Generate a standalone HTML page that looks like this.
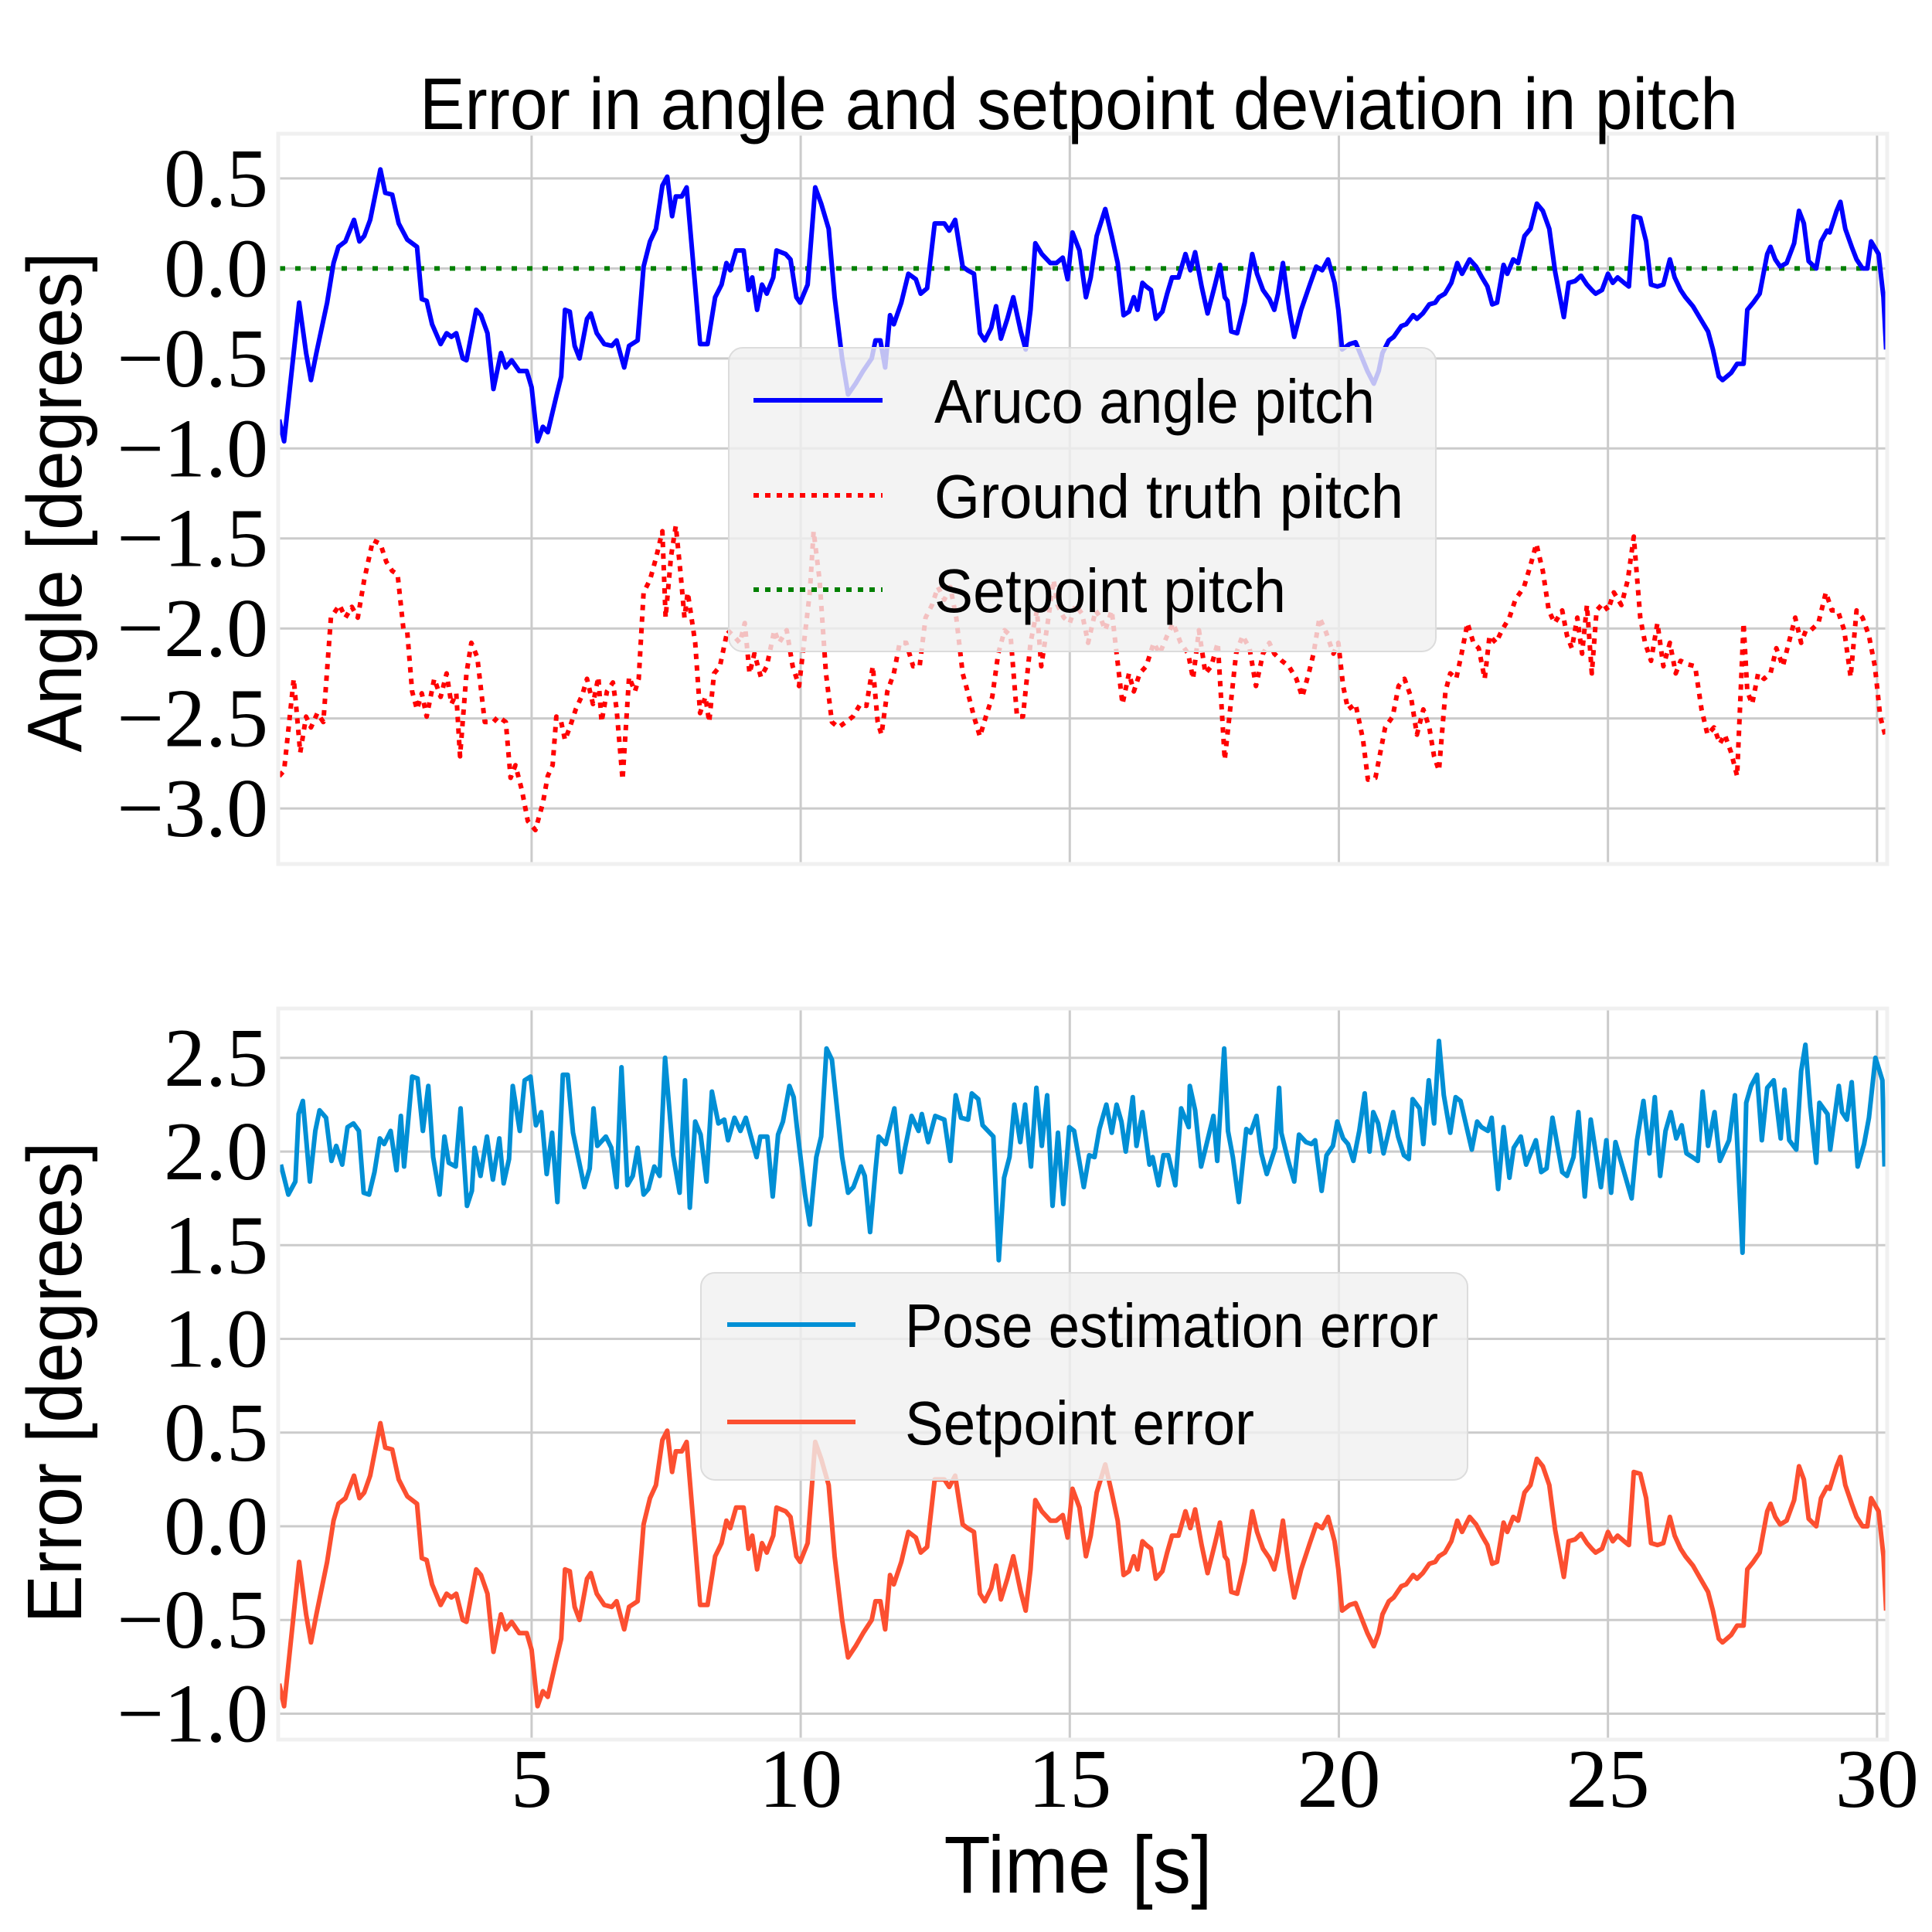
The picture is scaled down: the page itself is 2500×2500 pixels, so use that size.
<!DOCTYPE html>
<html><head><meta charset="utf-8">
<style>
html,body{margin:0;padding:0;background:#fff;}
svg{display:block;}
.tick{font-family:"Liberation Serif","DejaVu Serif",serif;font-size:108px;fill:#000;}
.sans{font-family:"Liberation Sans","DejaVu Sans",sans-serif;fill:#000;}
</style></head>
<body>
<svg id="chart" width="2500" height="2500" viewBox="0 0 2500 2500" xmlns="http://www.w3.org/2000/svg">
<rect x="0" y="0" width="2500" height="2500" fill="#fff"/>
<g id="top"></g>
<g id="bot"></g>
<text class="sans" x="1396" y="167" font-size="95" text-anchor="middle" textLength="1706" lengthAdjust="spacingAndGlyphs">Error in angle and setpoint deviation in pitch</text>
<text class="sans" transform="translate(105,650) rotate(-90)" font-size="100" text-anchor="middle" textLength="647" lengthAdjust="spacingAndGlyphs">Angle [degrees]</text>
<text class="sans" transform="translate(105,1789) rotate(-90)" font-size="100" text-anchor="middle" textLength="623" lengthAdjust="spacingAndGlyphs">Error [degrees]</text>
<text class="sans" x="1395" y="2449" font-size="105" text-anchor="middle" textLength="347" lengthAdjust="spacingAndGlyphs">Time [s]</text>
</svg>
<script>
// ---- data ----
const arucoT=[0.31,0.40,0.68,0.81,0.90,1.0,1.2,1.32,1.41,1.54,1.70,1.80,1.89,2.0,2.19,2.28,2.41,2.53,2.69,2.87,2.96,3.05,3.15,3.31,3.42,3.51,3.60,3.72,3.79,3.97,4.06,4.18,4.29,4.43,4.52,4.63,4.77,4.91,5.0,5.11,5.21,5.30,5.46,5.55,5.62,5.71,5.80,5.89,6.03,6.10,6.21,6.35,6.49,6.58,6.72,6.81,6.97,7.08,7.20,7.31,7.43,7.52,7.61,7.68,7.79,7.88,8.04,8.13,8.27,8.41,8.53,8.62,8.69,8.80,8.94,9.03,9.10,9.19,9.28,9.37,9.49,9.55,9.72,9.81,9.92,9.99,10.13,10.27,10.38,10.52,10.63,10.77,10.88,11.02,11.16,11.32,11.39,11.48,11.57,11.66,11.73,11.87,12.0,12.14,12.23,12.35,12.49,12.55,12.67,12.76,12.87,13.01,13.10,13.22,13.33,13.42,13.54,13.63,13.72,13.84,13.95,14.09,14.18,14.27,14.36,14.48,14.64,14.75,14.87,14.96,15.05,15.18,15.30,15.39,15.50,15.66,15.78,15.89,16.0,16.10,16.19,16.26,16.35,16.42,16.51,16.60,16.72,16.81,16.90,17.02,17.15,17.24,17.33,17.45,17.56,17.70,17.79,17.88,17.93,18.0,18.11,18.25,18.39,18.48,18.59,18.71,18.80,18.87,18.96,19.08,19.17,19.30,19.46,19.58,19.69,19.80,19.92,19.99,20.06,20.20,20.31,20.53,20.65,20.74,20.81,20.93,21.02,21.16,21.25,21.38,21.45,21.56,21.68,21.79,21.86,21.97,22.09,22.20,22.29,22.43,22.55,22.66,22.76,22.85,22.94,23.06,23.13,23.24,23.33,23.45,23.56,23.68,23.79,23.91,24.02,24.18,24.27,24.39,24.50,24.61,24.70,24.77,24.89,25.00,25.09,25.18,25.30,25.39,25.48,25.60,25.71,25.80,25.92,26.03,26.15,26.24,26.35,26.44,26.58,26.72,26.86,26.95,27.06,27.13,27.29,27.40,27.52,27.59,27.70,27.82,27.96,28.02,28.11,28.20,28.32,28.46,28.55,28.64,28.73,28.87,28.96,29.07,29.12,29.25,29.32,29.41,29.53,29.62,29.73,29.82,29.89,30.03,30.12,30.17];
const arucoV=[-0.84,-0.96,-0.19,-0.47,-0.62,-0.47,-0.19,0.03,0.12,0.15,0.27,0.15,0.18,0.27,0.55,0.42,0.41,0.25,0.16,0.12,-0.17,-0.18,-0.31,-0.42,-0.36,-0.38,-0.36,-0.50,-0.51,-0.23,-0.26,-0.36,-0.67,-0.47,-0.55,-0.51,-0.57,-0.57,-0.66,-0.96,-0.88,-0.91,-0.71,-0.60,-0.23,-0.24,-0.43,-0.50,-0.28,-0.25,-0.36,-0.42,-0.43,-0.40,-0.55,-0.43,-0.40,0.01,0.15,0.22,0.46,0.51,0.29,0.40,0.40,0.45,-0.10,-0.42,-0.42,-0.16,-0.09,0.03,-0.01,0.10,0.10,-0.12,-0.05,-0.23,-0.09,-0.14,-0.05,0.10,0.08,0.05,-0.16,-0.19,-0.09,0.45,0.36,0.22,-0.16,-0.50,-0.70,-0.64,-0.57,-0.50,-0.40,-0.40,-0.55,-0.26,-0.31,-0.19,-0.03,-0.06,-0.14,-0.11,0.25,0.25,0.25,0.21,0.27,0.01,-0.01,-0.03,-0.36,-0.40,-0.33,-0.21,-0.39,-0.28,-0.16,-0.35,-0.45,-0.23,0.14,0.08,0.03,0.03,0.06,-0.06,0.20,0.10,-0.16,-0.05,0.18,0.33,0.18,0.03,-0.26,-0.24,-0.16,-0.23,-0.08,-0.10,-0.12,-0.28,-0.24,-0.14,-0.05,-0.05,0.08,-0.01,0.09,-0.10,-0.25,-0.09,0.02,-0.16,-0.18,-0.35,-0.36,-0.19,0.08,-0.03,-0.12,-0.17,-0.23,-0.14,0.03,-0.23,-0.38,-0.23,-0.09,0.01,-0.01,0.05,-0.08,-0.23,-0.45,-0.42,-0.41,-0.57,-0.64,-0.57,-0.47,-0.40,-0.38,-0.32,-0.31,-0.26,-0.28,-0.25,-0.20,-0.19,-0.16,-0.14,-0.08,0.03,-0.03,0.05,0.01,-0.05,-0.10,-0.20,-0.19,0.02,-0.03,0.05,0.03,0.18,0.22,0.36,0.32,0.22,-0.02,-0.27,-0.08,-0.07,-0.04,-0.09,-0.12,-0.14,-0.12,-0.03,-0.08,-0.05,-0.08,-0.10,0.29,0.28,0.15,-0.09,-0.10,-0.09,0.05,-0.05,-0.12,-0.16,-0.21,-0.28,-0.35,-0.45,-0.60,-0.62,-0.58,-0.53,-0.53,-0.23,-0.19,-0.14,0.08,0.12,0.05,0.01,0.03,0.14,0.32,0.25,0.04,0.00,0.15,0.21,0.20,0.32,0.37,0.22,0.12,0.05,0.0,0.0,0.15,0.08,-0.16,-0.45];
const truthT=[0.31,0.40,0.58,0.70,0.81,0.90,1.02,1.13,1.27,1.43,1.54,1.66,1.77,1.89,2.05,2.19,2.30,2.41,2.51,2.62,2.69,2.78,2.87,2.96,3.05,3.19,3.31,3.42,3.51,3.60,3.67,3.79,3.88,3.99,4.13,4.29,4.38,4.52,4.61,4.70,4.82,4.93,5.07,5.21,5.30,5.39,5.46,5.55,5.62,5.71,5.82,5.94,6.03,6.14,6.24,6.30,6.40,6.51,6.58,6.69,6.81,6.92,6.99,7.08,7.20,7.31,7.43,7.49,7.59,7.68,7.77,7.84,7.90,8.04,8.13,8.23,8.30,8.39,8.50,8.64,8.75,8.87,8.96,9.05,9.14,9.26,9.37,9.51,9.60,9.74,9.85,9.97,10.06,10.17,10.24,10.35,10.47,10.58,10.70,10.84,10.97,11.11,11.22,11.34,11.43,11.50,11.61,11.73,11.84,11.96,12.09,12.21,12.32,12.44,12.55,12.67,12.78,12.89,13.01,13.10,13.22,13.33,13.44,13.56,13.67,13.79,13.90,14.02,14.13,14.27,14.39,14.47,14.59,14.70,14.77,14.89,15.00,15.11,15.23,15.34,15.48,15.57,15.66,15.78,15.87,15.98,16.10,16.19,16.30,16.42,16.56,16.67,16.81,16.92,17.06,17.20,17.29,17.40,17.52,17.63,17.75,17.88,17.98,18.09,18.21,18.34,18.46,18.59,18.71,18.80,18.94,19.07,19.21,19.32,19.44,19.53,19.64,19.76,19.90,19.99,20.08,20.17,20.31,20.45,20.54,20.68,20.77,20.86,21.00,21.11,21.22,21.34,21.45,21.57,21.68,21.77,21.86,21.98,22.07,22.18,22.28,22.39,22.50,22.60,22.71,22.80,22.92,23.03,23.17,23.28,23.44,23.56,23.67,23.79,23.90,24.01,24.15,24.24,24.33,24.43,24.52,24.61,24.70,24.79,24.91,25.00,25.11,25.25,25.37,25.48,25.60,25.69,25.80,25.92,26.03,26.15,26.26,26.35,26.49,26.62,26.74,26.85,26.97,27.08,27.17,27.29,27.40,27.52,27.59,27.68,27.79,27.90,28.02,28.13,28.25,28.36,28.48,28.59,28.68,28.77,28.91,29.05,29.16,29.27,29.39,29.51,29.62,29.73,29.85,29.96,30.06,30.15];
const truthV=[-2.82,-2.79,-2.28,-2.69,-2.49,-2.55,-2.47,-2.52,-1.94,-1.87,-1.94,-1.88,-1.94,-1.73,-1.51,-1.53,-1.63,-1.68,-1.70,-2.01,-2.02,-2.35,-2.45,-2.36,-2.49,-2.28,-2.38,-2.25,-2.42,-2.36,-2.71,-2.25,-2.08,-2.16,-2.52,-2.52,-2.49,-2.52,-2.83,-2.76,-2.90,-3.07,-3.12,-2.97,-2.82,-2.76,-2.49,-2.52,-2.62,-2.55,-2.45,-2.37,-2.28,-2.42,-2.27,-2.52,-2.35,-2.30,-2.45,-2.84,-2.27,-2.35,-2.28,-1.80,-1.73,-1.61,-1.46,-1.94,-1.60,-1.43,-1.70,-1.94,-1.80,-2.08,-2.47,-2.38,-2.52,-2.25,-2.21,-2.01,-2.04,-2.08,-1.97,-2.25,-2.14,-2.27,-2.21,-2.01,-2.08,-2.01,-2.21,-2.32,-2.08,-1.80,-1.46,-1.73,-2.25,-2.52,-2.55,-2.52,-2.49,-2.42,-2.43,-2.21,-2.52,-2.59,-2.35,-2.25,-2.08,-2.08,-2.21,-2.21,-1.94,-1.87,-1.77,-1.84,-1.77,-1.94,-2.25,-2.35,-2.49,-2.60,-2.49,-2.38,-2.14,-2.01,-2.04,-2.49,-2.49,-2.08,-1.90,-2.21,-1.97,-1.73,-1.87,-1.94,-1.97,-1.87,-1.92,-2.08,-1.90,-1.94,-2.01,-1.90,-2.14,-2.42,-2.25,-2.35,-2.25,-2.21,-2.08,-2.14,-2.04,-1.97,-2.08,-2.14,-2.28,-2.01,-2.25,-2.21,-2.08,-2.73,-2.45,-2.14,-2.04,-2.11,-2.32,-2.14,-2.08,-2.14,-2.18,-2.21,-2.28,-2.38,-2.25,-2.14,-1.94,-2.02,-2.14,-2.08,-2.32,-2.45,-2.42,-2.62,-2.84,-2.83,-2.69,-2.55,-2.49,-2.32,-2.28,-2.38,-2.59,-2.45,-2.55,-2.71,-2.79,-2.35,-2.25,-2.28,-2.14,-1.97,-2.08,-2.11,-2.28,-2.04,-2.08,-2.01,-1.94,-1.84,-1.77,-1.65,-1.53,-1.68,-1.90,-1.97,-1.90,-2.04,-2.11,-1.94,-2.14,-1.87,-2.25,-1.90,-1.86,-1.90,-1.80,-1.87,-1.73,-1.49,-1.94,-2.08,-2.18,-1.97,-2.21,-2.08,-2.25,-2.18,-2.20,-2.21,-2.45,-2.59,-2.55,-2.64,-2.59,-2.69,-2.82,-1.97,-2.35,-2.42,-2.25,-2.28,-2.25,-2.11,-2.21,-2.08,-1.94,-2.08,-2.01,-2.01,-1.97,-1.80,-1.90,-1.90,-2.01,-2.27,-1.90,-1.94,-2.04,-2.21,-2.49,-2.59];
const poseT=[0.34,0.48,0.61,0.67,0.75,0.88,0.98,1.06,1.18,1.28,1.37,1.48,1.58,1.69,1.79,1.88,1.98,2.08,2.18,2.26,2.38,2.49,2.57,2.63,2.78,2.88,2.98,3.08,3.17,3.29,3.38,3.46,3.59,3.68,3.80,3.89,3.94,4.05,4.17,4.28,4.40,4.48,4.58,4.65,4.78,4.87,4.98,5.08,5.18,5.28,5.38,5.48,5.58,5.67,5.77,5.98,6.08,6.15,6.22,6.38,6.48,6.58,6.67,6.78,6.88,6.97,7.08,7.17,7.28,7.38,7.48,7.63,7.75,7.85,7.94,8.04,8.14,8.25,8.35,8.47,8.58,8.65,8.77,8.88,8.98,9.18,9.25,9.38,9.48,9.58,9.67,9.79,9.87,9.93,10.08,10.17,10.29,10.38,10.48,10.58,10.77,10.88,10.98,11.12,11.19,11.29,11.39,11.45,11.58,11.74,11.86,11.94,12.06,12.19,12.25,12.37,12.50,12.67,12.78,12.88,12.98,13.11,13.18,13.30,13.38,13.58,13.68,13.78,13.88,13.97,14.08,14.17,14.28,14.38,14.48,14.58,14.68,14.78,14.88,14.99,15.08,15.26,15.36,15.46,15.55,15.68,15.78,15.87,15.96,16.04,16.17,16.24,16.35,16.48,16.54,16.65,16.74,16.83,16.96,17.07,17.21,17.23,17.33,17.44,17.67,17.74,17.87,17.94,18.03,18.14,18.28,18.36,18.47,18.56,18.66,18.82,18.89,18.93,19.07,19.17,19.26,19.39,19.49,19.56,19.68,19.77,19.89,19.97,20.08,20.17,20.27,20.38,20.48,20.57,20.64,20.73,20.83,21.01,21.10,21.21,21.30,21.37,21.50,21.57,21.67,21.77,21.86,21.95,22.07,22.17,22.26,22.47,22.57,22.65,22.77,22.84,22.96,23.06,23.17,23.25,23.38,23.48,23.66,23.76,23.86,23.97,24.15,24.24,24.36,24.45,24.57,24.68,24.87,24.97,25.06,25.14,25.44,25.54,25.66,25.77,25.87,25.97,26.07,26.17,26.27,26.37,26.46,26.57,26.67,26.76,26.86,26.98,27.08,27.25,27.36,27.50,27.57,27.66,27.77,27.86,27.96,28.08,28.21,28.28,28.37,28.50,28.59,28.67,28.76,28.87,28.93,29.08,29.13,29.29,29.35,29.44,29.53,29.64,29.76,29.85,29.97,30.10,30.14];
const poseV=[1.93,1.77,1.84,2.20,2.27,1.84,2.11,2.22,2.18,1.95,2.03,1.93,2.13,2.15,2.11,1.78,1.77,1.89,2.07,2.04,2.11,1.90,2.19,1.92,2.40,2.39,2.11,2.35,1.97,1.77,2.08,1.94,1.92,2.23,1.71,1.79,2.02,1.87,2.08,1.85,2.07,1.83,1.96,2.35,2.11,2.38,2.40,2.14,2.21,1.88,2.10,1.73,2.41,2.41,2.10,1.81,1.91,2.23,2.03,2.08,2.02,1.81,2.45,1.82,1.87,2.02,1.77,1.80,1.92,1.87,2.50,1.98,1.78,2.38,1.70,2.16,2.09,1.84,2.32,2.15,2.17,2.06,2.18,2.11,2.18,1.97,2.08,2.08,1.76,2.09,2.16,2.35,2.29,2.13,1.77,1.61,1.97,2.08,2.55,2.49,1.97,1.78,1.81,1.92,1.87,1.57,1.90,2.08,2.04,2.23,1.89,2.02,2.19,2.11,2.20,2.05,2.19,2.17,1.95,2.30,2.18,2.17,2.31,2.28,2.14,2.08,1.42,1.86,1.97,2.25,2.05,2.25,1.92,2.34,2.03,2.30,1.71,2.10,1.72,2.13,2.11,1.81,1.98,1.97,2.12,2.25,2.10,2.25,2.16,2.00,2.29,2.03,2.21,1.93,1.97,1.82,1.98,1.98,1.82,2.23,2.13,2.35,2.22,1.92,2.19,1.95,2.55,2.11,1.97,1.73,2.12,2.10,2.19,1.99,1.88,2.02,2.34,2.10,1.94,1.84,2.09,2.05,2.04,2.06,1.79,1.98,2.03,2.16,2.07,2.04,1.95,2.11,2.31,2.00,2.21,2.15,1.99,2.21,2.08,1.98,1.96,2.28,2.23,2.04,2.38,2.15,2.59,2.30,2.10,2.29,2.27,2.01,2.16,2.13,2.11,2.18,1.80,2.13,1.86,2.02,2.08,1.93,2.06,1.89,1.91,2.18,1.89,1.87,1.97,2.21,1.76,2.17,1.81,2.06,1.78,2.05,1.75,2.06,2.27,1.99,2.29,1.87,2.11,2.21,2.07,2.14,1.99,1.97,1.95,2.32,2.03,2.21,1.95,2.06,2.30,1.46,2.26,2.35,2.41,2.06,2.34,2.38,2.07,2.33,2.06,2.01,2.43,2.57,2.24,1.94,2.26,2.20,2.01,2.35,2.21,2.17,2.37,1.92,2.04,2.18,2.50,2.38,1.92];
const setpointV=[0.0];
const topTicks=[0.5,0.0,-0.5,-1.0,-1.5,-2.0,-2.5,-3.0];
const topTickLabels=["0.5","0.0","\u22120.5","\u22121.0","\u22121.5","\u22122.0","\u22122.5","\u22123.0"];
const botTicks=[2.5,2.0,1.5,1.0,0.5,0.0,-0.5,-1.0];
const botTickLabels=["2.5","2.0","1.5","1.0","0.5","0.0","\u22120.5","\u22121.0"];
const xTicks=[5,10,15,20,25,30];
const xTickLabels=["5","10","15","20","25","30"];

// ---- layout ----
const NS="http://www.w3.org/2000/svg";
const X0=362,X1=2440,TMIN=0.32,TMAX=30.16;
function xs(t){return X0+(t-TMIN)/(TMAX-TMIN)*(X1-X0);}
const topY={y0:175,y1:1116,vmax:0.74,vmin:-3.30};
const botY={y0:1307,y1:2249,vmax:2.755,vmin:-1.13};
function ys(ax,v){return ax.y0+(ax.vmax-v)/(ax.vmax-ax.vmin)*(ax.y1-ax.y0);}
function mk(tag,attrs,parent){const e=document.createElementNS(NS,tag);for(const k in attrs)e.setAttribute(k,attrs[k]);parent.appendChild(e);return e;}

function drawAxes(g,ax,ticks,labels,showX,pfx){
  const bg=mk('rect',{x:X0,y:ax.y0,width:X1-X0,height:ax.y1-ax.y0,fill:'#fff'},g);
  
  
  ticks.forEach((v,i)=>{
    const y=ys(ax,v);
    const l=mk('line',{x1:X0,x2:X1,y1:y,y2:y,stroke:'#cbcbcb','stroke-width':3},g);
    
    
    const t=mk('text',{x:347,y:y+36,'text-anchor':'end',class:'tick'},g);
    t.textContent=labels[i];
    
    
  });
  xTicks.forEach((v,i)=>{
    const x=xs(v);
    const l=mk('line',{x1:x,x2:x,y1:ax.y0,y2:ax.y1,stroke:'#cbcbcb','stroke-width':3},g);
    
    
    if(showX){
      const t=mk('text',{x:x,y:2338,'text-anchor':'middle',class:'tick'},g);
      t.textContent=xTickLabels[i];
      
      
    }
  });
}
function frame(g,ax,pfx){
  const f=mk('rect',{x:X0-2,y:ax.y0-2,width:X1-X0+4,height:ax.y1-ax.y0+4,fill:'none',stroke:'#f0f0f0','stroke-width':5},g);
  
  
}
function series(g,ax,T,V,color,dash,name){
  const pts=T.map((t,i)=>xs(t).toFixed(1)+','+ys(ax,V[i]).toFixed(1)).join(' ');
  const a={points:pts,fill:'none',stroke:color,'stroke-width':6,'stroke-linejoin':'round'};
  if(dash){a['stroke-dasharray']=dash;}
  const p=mk('polyline',a,g);
  
  
}
function legend(g,x,y,w,h,entries,pfx){
  const r=mk('rect',{x:x,y:y,width:w,height:h,rx:18,fill:'#f0f0f0','fill-opacity':0.8,stroke:'#dcdcdc','stroke-width':2},g);
  
  
  entries.forEach(e=>{
    const a={x1:e.lx0,x2:e.lx1,y1:e.y,y2:e.y,stroke:e.color,'stroke-width':6};
    if(e.dash)a['stroke-dasharray']=e.dash;
    const l=mk('line',a,g);
    
    
    const t=mk('text',{x:e.tx,y:e.y+29,'font-size':80,class:'sans',textLength:e.tw,lengthAdjust:'spacingAndGlyphs'},g);
    t.textContent=e.label;
    
    
  });
}

const gt=document.getElementById('top');
drawAxes(gt,topY,topTicks,topTickLabels,false,'top');
series(gt,topY,[TMIN,TMAX],[setpointV[0],setpointV[0]],'#008000','7,13','setpoint-pitch-line');
series(gt,topY,truthT,truthV,'#ff0000','7,8','ground-truth-pitch-line');
series(gt,topY,arucoT,arucoV,'#0000ff',null,'aruco-angle-pitch-line');
frame(gt,topY,'top');
legend(gt,943,450,915,393,[
 {lx0:975,lx1:1142,y:518,color:'#0000ff',dash:null,label:'Aruco angle pitch',tx:1209,tw:570,name:'aruco'},
 {lx0:975,lx1:1142,y:641,color:'#ff0000',dash:'7,8',label:'Ground truth pitch',tx:1209,tw:607,name:'ground-truth'},
 {lx0:975,lx1:1142,y:763,color:'#008000',dash:'7,8',label:'Setpoint pitch',tx:1209,tw:455,name:'setpoint'}],'top');

const gb=document.getElementById('bot');
drawAxes(gb,botY,botTicks,botTickLabels,true,'bottom');
series(gb,botY,poseT,poseV,'#008fd5',null,'pose-estimation-error-line');
series(gb,botY,arucoT,arucoV,'#fc4f30',null,'setpoint-error-line');
frame(gb,botY,'bottom');
legend(gb,907,1647,992,268,[
 {lx0:941,lx1:1107,y:1714,color:'#008fd5',dash:null,label:'Pose estimation error',tx:1171,tw:690,name:'pose-error'},
 {lx0:941,lx1:1107,y:1840,color:'#fc4f30',dash:null,label:'Setpoint error',tx:1171,tw:452,name:'setpoint-error'}],'bottom');
</script>
</body></html>
